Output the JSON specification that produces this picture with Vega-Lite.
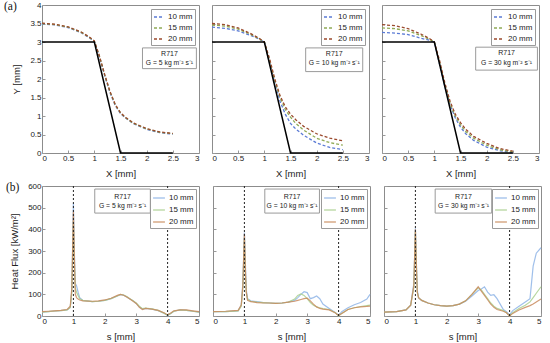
{
"$schema":"https://vega.github.io/schema/vega-lite/v6.json",
"padding":{"left":3,"top":0,"right":2,"bottom":2},
"background":"white",
"datasets":{
"top":[
{"p":1,"x":0,"10 mm":3.49,"15 mm":3.5,"20 mm":3.51},
{"p":1,"x":0.25,"10 mm":3.46,"15 mm":3.47,"20 mm":3.48},
{"p":1,"x":0.5,"10 mm":3.39,"15 mm":3.4,"20 mm":3.41},
{"p":1,"x":0.75,"10 mm":3.25,"15 mm":3.26,"20 mm":3.27},
{"p":1,"x":0.9,"10 mm":3.12,"15 mm":3.13,"20 mm":3.14},
{"p":1,"x":1.0,"10 mm":3.01,"15 mm":3.02,"20 mm":3.03},
{"p":1,"x":1.1,"10 mm":2.58,"15 mm":2.6,"20 mm":2.61},
{"p":1,"x":1.2,"10 mm":2.08,"15 mm":2.1,"20 mm":2.11},
{"p":1,"x":1.3,"10 mm":1.63,"15 mm":1.65,"20 mm":1.66},
{"p":1,"x":1.4,"10 mm":1.28,"15 mm":1.3,"20 mm":1.31},
{"p":1,"x":1.5,"10 mm":1.07,"15 mm":1.08,"20 mm":1.09},
{"p":1,"x":1.6,"10 mm":0.94,"15 mm":0.95,"20 mm":0.96},
{"p":1,"x":1.75,"10 mm":0.79,"15 mm":0.8,"20 mm":0.81},
{"p":1,"x":2.0,"10 mm":0.64,"15 mm":0.65,"20 mm":0.66},
{"p":1,"x":2.25,"10 mm":0.55,"15 mm":0.56,"20 mm":0.57},
{"p":1,"x":2.5,"10 mm":0.51,"15 mm":0.52,"20 mm":0.53},
{"p":2,"x":0,"10 mm":3.4,"15 mm":3.46,"20 mm":3.5},
{"p":2,"x":0.25,"10 mm":3.37,"15 mm":3.43,"20 mm":3.47},
{"p":2,"x":0.5,"10 mm":3.3,"15 mm":3.35,"20 mm":3.38},
{"p":2,"x":0.75,"10 mm":3.17,"15 mm":3.2,"20 mm":3.22},
{"p":2,"x":0.9,"10 mm":3.08,"15 mm":3.09,"20 mm":3.1},
{"p":2,"x":1.0,"10 mm":3.0,"15 mm":3.0,"20 mm":3.0},
{"p":2,"x":1.1,"10 mm":2.45,"15 mm":2.5,"20 mm":2.55},
{"p":2,"x":1.2,"10 mm":1.9,"15 mm":1.95,"20 mm":2.0},
{"p":2,"x":1.3,"10 mm":1.4,"15 mm":1.5,"20 mm":1.55},
{"p":2,"x":1.4,"10 mm":1.05,"15 mm":1.18,"20 mm":1.25},
{"p":2,"x":1.5,"10 mm":0.8,"15 mm":0.97,"20 mm":1.05},
{"p":2,"x":1.6,"10 mm":0.65,"15 mm":0.8,"20 mm":0.9},
{"p":2,"x":1.75,"10 mm":0.48,"15 mm":0.62,"20 mm":0.72},
{"p":2,"x":2.0,"10 mm":0.27,"15 mm":0.4,"20 mm":0.52},
{"p":2,"x":2.25,"10 mm":0.15,"15 mm":0.28,"20 mm":0.4},
{"p":2,"x":2.5,"10 mm":0.09,"15 mm":0.21,"20 mm":0.33},
{"p":3,"x":0,"10 mm":3.26,"15 mm":3.38,"20 mm":3.47},
{"p":3,"x":0.25,"10 mm":3.24,"15 mm":3.36,"20 mm":3.44},
{"p":3,"x":0.5,"10 mm":3.2,"15 mm":3.3,"20 mm":3.36},
{"p":3,"x":0.75,"10 mm":3.1,"15 mm":3.17,"20 mm":3.21},
{"p":3,"x":0.9,"10 mm":3.05,"15 mm":3.08,"20 mm":3.1},
{"p":3,"x":1.0,"10 mm":3.0,"15 mm":3.0,"20 mm":3.0},
{"p":3,"x":1.1,"10 mm":2.4,"15 mm":2.45,"20 mm":2.5},
{"p":3,"x":1.2,"10 mm":1.8,"15 mm":1.85,"20 mm":1.9},
{"p":3,"x":1.3,"10 mm":1.3,"15 mm":1.35,"20 mm":1.4},
{"p":3,"x":1.4,"10 mm":0.95,"15 mm":1.0,"20 mm":1.05},
{"p":3,"x":1.5,"10 mm":0.7,"15 mm":0.76,"20 mm":0.82},
{"p":3,"x":1.6,"10 mm":0.52,"15 mm":0.58,"20 mm":0.64},
{"p":3,"x":1.75,"10 mm":0.34,"15 mm":0.4,"20 mm":0.45},
{"p":3,"x":2.0,"10 mm":0.16,"15 mm":0.21,"20 mm":0.26},
{"p":3,"x":2.25,"10 mm":0.06,"15 mm":0.09,"20 mm":0.12},
{"p":3,"x":2.5,"10 mm":0.01,"15 mm":0.03,"20 mm":0.05}
],
"profile":[{"x":0,"y":3},{"x":1,"y":3},{"x":1.5,"y":0},{"x":2.5,"y":0}],
"guides":[{"s":1},{"s":4}],
"bottom":[
{"p":1,"s":0,"10 mm":18,"15 mm":18,"20 mm":20},
{"p":1,"s":0.2,"10 mm":20,"15 mm":20,"20 mm":22},
{"p":1,"s":0.4,"10 mm":23,"15 mm":23,"20 mm":24},
{"p":1,"s":0.6,"10 mm":25,"15 mm":25,"20 mm":26},
{"p":1,"s":0.8,"10 mm":28,"15 mm":28,"20 mm":30},
{"p":1,"s":0.9,"10 mm":40,"15 mm":40,"20 mm":45},
{"p":1,"s":0.95,"10 mm":120,"15 mm":110,"20 mm":130},
{"p":1,"s":1.0,"10 mm":520,"15 mm":440,"20 mm":480},
{"p":1,"s":1.03,"10 mm":300,"15 mm":250,"20 mm":280},
{"p":1,"s":1.06,"10 mm":150,"15 mm":130,"20 mm":100},
{"p":1,"s":1.1,"10 mm":140,"15 mm":110,"20 mm":85},
{"p":1,"s":1.15,"10 mm":110,"15 mm":95,"20 mm":78},
{"p":1,"s":1.2,"10 mm":85,"15 mm":80,"20 mm":74},
{"p":1,"s":1.3,"10 mm":72,"15 mm":72,"20 mm":70},
{"p":1,"s":1.6,"10 mm":66,"15 mm":66,"20 mm":68},
{"p":1,"s":1.8,"10 mm":68,"15 mm":68,"20 mm":70},
{"p":1,"s":2.0,"10 mm":72,"15 mm":72,"20 mm":74},
{"p":1,"s":2.2,"10 mm":80,"15 mm":80,"20 mm":82},
{"p":1,"s":2.4,"10 mm":92,"15 mm":92,"20 mm":95},
{"p":1,"s":2.5,"10 mm":98,"15 mm":100,"20 mm":100},
{"p":1,"s":2.6,"10 mm":96,"15 mm":97,"20 mm":96},
{"p":1,"s":2.7,"10 mm":88,"15 mm":90,"20 mm":88},
{"p":1,"s":2.8,"10 mm":78,"15 mm":80,"20 mm":78},
{"p":1,"s":2.9,"10 mm":70,"15 mm":70,"20 mm":68},
{"p":1,"s":3.0,"10 mm":58,"15 mm":60,"20 mm":58},
{"p":1,"s":3.1,"10 mm":42,"15 mm":45,"20 mm":40},
{"p":1,"s":3.2,"10 mm":32,"15 mm":34,"20 mm":30},
{"p":1,"s":3.3,"10 mm":35,"15 mm":36,"20 mm":35},
{"p":1,"s":3.5,"10 mm":32,"15 mm":33,"20 mm":32},
{"p":1,"s":3.7,"10 mm":25,"15 mm":26,"20 mm":26},
{"p":1,"s":3.9,"10 mm":12,"15 mm":12,"20 mm":14},
{"p":1,"s":4.0,"10 mm":2,"15 mm":3,"20 mm":5},
{"p":1,"s":4.1,"10 mm":12,"15 mm":12,"20 mm":14},
{"p":1,"s":4.2,"10 mm":22,"15 mm":22,"20 mm":24},
{"p":1,"s":4.4,"10 mm":28,"15 mm":28,"20 mm":28},
{"p":1,"s":4.6,"10 mm":26,"15 mm":26,"20 mm":28},
{"p":1,"s":4.8,"10 mm":22,"15 mm":22,"20 mm":24},
{"p":1,"s":5.0,"10 mm":18,"15 mm":18,"20 mm":20},
{"p":2,"s":0,"10 mm":20,"15 mm":20,"20 mm":20},
{"p":2,"s":0.4,"10 mm":20,"15 mm":20,"20 mm":22},
{"p":2,"s":0.8,"10 mm":24,"15 mm":24,"20 mm":26},
{"p":2,"s":0.9,"10 mm":50,"15 mm":45,"20 mm":50},
{"p":2,"s":0.95,"10 mm":150,"15 mm":130,"20 mm":140},
{"p":2,"s":1.0,"10 mm":385,"15 mm":360,"20 mm":380},
{"p":2,"s":1.03,"10 mm":250,"15 mm":200,"20 mm":220},
{"p":2,"s":1.06,"10 mm":120,"15 mm":110,"20 mm":110},
{"p":2,"s":1.1,"10 mm":80,"15 mm":78,"20 mm":72},
{"p":2,"s":1.2,"10 mm":70,"15 mm":68,"20 mm":66},
{"p":2,"s":1.4,"10 mm":66,"15 mm":64,"20 mm":62},
{"p":2,"s":1.6,"10 mm":62,"15 mm":62,"20 mm":60},
{"p":2,"s":1.8,"10 mm":60,"15 mm":60,"20 mm":60},
{"p":2,"s":2.0,"10 mm":58,"15 mm":58,"20 mm":58},
{"p":2,"s":2.2,"10 mm":60,"15 mm":60,"20 mm":60},
{"p":2,"s":2.4,"10 mm":64,"15 mm":64,"20 mm":64},
{"p":2,"s":2.6,"10 mm":72,"15 mm":78,"20 mm":68},
{"p":2,"s":2.7,"10 mm":85,"15 mm":95,"20 mm":72},
{"p":2,"s":2.8,"10 mm":100,"15 mm":102,"20 mm":76},
{"p":2,"s":2.9,"10 mm":112,"15 mm":95,"20 mm":80},
{"p":2,"s":3.0,"10 mm":108,"15 mm":80,"20 mm":82},
{"p":2,"s":3.1,"10 mm":80,"15 mm":62,"20 mm":70},
{"p":2,"s":3.2,"10 mm":85,"15 mm":50,"20 mm":55},
{"p":2,"s":3.3,"10 mm":92,"15 mm":42,"20 mm":42},
{"p":2,"s":3.4,"10 mm":80,"15 mm":38,"20 mm":35},
{"p":2,"s":3.5,"10 mm":55,"15 mm":34,"20 mm":32},
{"p":2,"s":3.7,"10 mm":35,"15 mm":30,"20 mm":28},
{"p":2,"s":3.9,"10 mm":15,"15 mm":15,"20 mm":14},
{"p":2,"s":4.0,"10 mm":2,"15 mm":0,"20 mm":2},
{"p":2,"s":4.1,"10 mm":20,"15 mm":12,"20 mm":12},
{"p":2,"s":4.3,"10 mm":38,"15 mm":30,"20 mm":30},
{"p":2,"s":4.5,"10 mm":52,"15 mm":38,"20 mm":38},
{"p":2,"s":4.7,"10 mm":62,"15 mm":44,"20 mm":42},
{"p":2,"s":4.9,"10 mm":78,"15 mm":48,"20 mm":44},
{"p":2,"s":5.0,"10 mm":100,"15 mm":50,"20 mm":46},
{"p":3,"s":0,"10 mm":18,"15 mm":18,"20 mm":18},
{"p":3,"s":0.4,"10 mm":20,"15 mm":20,"20 mm":20},
{"p":3,"s":0.7,"10 mm":28,"15 mm":28,"20 mm":28},
{"p":3,"s":0.85,"10 mm":50,"15 mm":50,"20 mm":50},
{"p":3,"s":0.95,"10 mm":150,"15 mm":130,"20 mm":140},
{"p":3,"s":1.0,"10 mm":405,"15 mm":390,"20 mm":400},
{"p":3,"s":1.03,"10 mm":250,"15 mm":230,"20 mm":240},
{"p":3,"s":1.06,"10 mm":120,"15 mm":110,"20 mm":110},
{"p":3,"s":1.1,"10 mm":85,"15 mm":85,"20 mm":85},
{"p":3,"s":1.2,"10 mm":72,"15 mm":72,"20 mm":72},
{"p":3,"s":1.4,"10 mm":60,"15 mm":60,"20 mm":60},
{"p":3,"s":1.6,"10 mm":52,"15 mm":52,"20 mm":52},
{"p":3,"s":1.8,"10 mm":48,"15 mm":48,"20 mm":48},
{"p":3,"s":2.0,"10 mm":46,"15 mm":46,"20 mm":46},
{"p":3,"s":2.2,"10 mm":48,"15 mm":48,"20 mm":48},
{"p":3,"s":2.4,"10 mm":55,"15 mm":55,"20 mm":55},
{"p":3,"s":2.6,"10 mm":68,"15 mm":70,"20 mm":70},
{"p":3,"s":2.8,"10 mm":92,"15 mm":100,"20 mm":100},
{"p":3,"s":3.0,"10 mm":118,"15 mm":130,"20 mm":135},
{"p":3,"s":3.1,"10 mm":125,"15 mm":120,"20 mm":115},
{"p":3,"s":3.2,"10 mm":135,"15 mm":100,"20 mm":95},
{"p":3,"s":3.3,"10 mm":110,"15 mm":80,"20 mm":75},
{"p":3,"s":3.4,"10 mm":95,"15 mm":60,"20 mm":55},
{"p":3,"s":3.5,"10 mm":98,"15 mm":45,"20 mm":40},
{"p":3,"s":3.6,"10 mm":80,"15 mm":35,"20 mm":30},
{"p":3,"s":3.8,"10 mm":30,"15 mm":25,"20 mm":22},
{"p":3,"s":3.9,"10 mm":20,"15 mm":15,"20 mm":15},
{"p":3,"s":4.0,"10 mm":5,"15 mm":0,"20 mm":0},
{"p":3,"s":4.1,"10 mm":25,"15 mm":15,"20 mm":12},
{"p":3,"s":4.3,"10 mm":45,"15 mm":35,"20 mm":28},
{"p":3,"s":4.5,"10 mm":65,"15 mm":50,"20 mm":40},
{"p":3,"s":4.65,"10 mm":80,"15 mm":65,"20 mm":48},
{"p":3,"s":4.75,"10 mm":230,"15 mm":85,"20 mm":55},
{"p":3,"s":4.85,"10 mm":290,"15 mm":105,"20 mm":65},
{"p":3,"s":5.0,"10 mm":315,"15 mm":135,"20 mm":78}
]
},
"config":{
"font":"Liberation Sans",
"view":{"stroke":"#8c8c8c","strokeWidth":1},
"axis":{"domain":false,"grid":false,"labelFontSize":8,"titleFontSize":9.5,"titleFontWeight":"normal","labelColor":"#222","titleColor":"#222","tickColor":"#999","tickSize":-3,"labelPadding":4,"titlePadding":6,"labelOverlap":false,"format":"~f"},
"axisX":{"tickCount":5},
"axisY":{"titlePadding":8,"tickCount":8},
"legend":{"orient":"top-right","strokeColor":"#9a9a9a","fillColor":"white","padding":2,"labelFontSize":8,"labelColor":"#222","symbolType":"stroke","symbolSize":100,"rowPadding":1,"symbolStrokeWidth":1.3,"labelOffset":3},
"title":{"font":"Liberation Serif","fontSize":11.5,"fontWeight":"normal","anchor":"start","frame":"group","color":"#111"}
},
"spacing":3,
"resolve":{"scale":{"color":"independent"},"legend":{"color":"independent"}},
"vconcat":[
{"spacing":8,
"resolve":{"scale":{"color":"independent"},"legend":{"color":"independent"}},
"hconcat":[
{"width":157,"height":148,
"title":{"text":"(a)","offset":-11,"dx":-38},
"layer":[
{"data":{"name":"top"},"transform":[{"filter":"datum.p == 1"},{"fold":["10 mm","15 mm","20 mm"],"as":["series","y"]}],
"mark":{"type":"line","strokeDash":[3,2],"strokeWidth":1.3},
"encoding":{
"x":{"field":"x","type":"quantitative","scale":{"domain":[0,3]},"axis":{"title":"X [mm]"}},
"y":{"field":"y","type":"quantitative","scale":{"domain":[0,4]},"axis":{"title":"Y [mm]"}},
"color":{"field":"series","type":"nominal","scale":{"domain":["10 mm","15 mm","20 mm"],"range":["#5b7bd5","#8faa55","#9b4a2d"]},"legend":{"title":null,"symbolDash":[3,2],"offset":4}}}},
{"data":{"name":"profile"},"mark":{"type":"line","color":"black","strokeWidth":1.5},"encoding":{"x":{"field":"x","type":"quantitative"},"y":{"field":"y","type":"quantitative"}}},
{"data":{"values":[{}]},"mark":{"type":"rect","fill":"white","stroke":"#9a9a9a","strokeWidth":1},"encoding":{"x":{"datum":1.92},"x2":{"datum":2.95},"y":{"datum":2.84},"y2":{"datum":2.28}}},
{"data":{"values":[{}]},"mark":{"type":"text","fontSize":7,"color":"#222"},"encoding":{"x":{"datum":2.435},"y":{"datum":2.68},"text":{"value":"R717"}}},
{"data":{"values":[{}]},"mark":{"type":"text","fontSize":6.8,"color":"#222"},"encoding":{"x":{"datum":2.435},"y":{"datum":2.43},"text":{"value":"G = 5 kg m⁻² s⁻¹"}}}
]},
{"width":157,"height":148,
"layer":[
{"data":{"name":"top"},"transform":[{"filter":"datum.p == 2"},{"fold":["10 mm","15 mm","20 mm"],"as":["series","y"]}],
"mark":{"type":"line","strokeDash":[3,2],"strokeWidth":1.3},
"encoding":{
"x":{"field":"x","type":"quantitative","scale":{"domain":[0,3]},"axis":{"title":"X [mm]"}},
"y":{"field":"y","type":"quantitative","scale":{"domain":[0,4]},"axis":{"title":null,"labels":false}},
"color":{"field":"series","type":"nominal","scale":{"domain":["10 mm","15 mm","20 mm"],"range":["#5b7bd5","#8faa55","#9b4a2d"]},"legend":{"title":null,"symbolDash":[3,2],"offset":4}}}},
{"data":{"name":"profile"},"mark":{"type":"line","color":"black","strokeWidth":1.5},"encoding":{"x":{"field":"x","type":"quantitative"},"y":{"field":"y","type":"quantitative"}}},
{"data":{"values":[{}]},"mark":{"type":"rect","fill":"white","stroke":"#9a9a9a","strokeWidth":1},"encoding":{"x":{"datum":1.79},"x2":{"datum":2.88},"y":{"datum":2.84},"y2":{"datum":2.2}}},
{"data":{"values":[{}]},"mark":{"type":"text","fontSize":7,"color":"#222"},"encoding":{"x":{"datum":2.335},"y":{"datum":2.68},"text":{"value":"R717"}}},
{"data":{"values":[{}]},"mark":{"type":"text","fontSize":6.8,"color":"#222"},"encoding":{"x":{"datum":2.335},"y":{"datum":2.42},"text":{"value":"G = 10 kg m⁻² s⁻¹"}}}
]},
{"width":157,"height":148,
"layer":[
{"data":{"name":"top"},"transform":[{"filter":"datum.p == 3"},{"fold":["10 mm","15 mm","20 mm"],"as":["series","y"]}],
"mark":{"type":"line","strokeDash":[3,2],"strokeWidth":1.3},
"encoding":{
"x":{"field":"x","type":"quantitative","scale":{"domain":[0,3]},"axis":{"title":"X [mm]"}},
"y":{"field":"y","type":"quantitative","scale":{"domain":[0,4]},"axis":{"title":null,"labels":false}},
"color":{"field":"series","type":"nominal","scale":{"domain":["10 mm","15 mm","20 mm"],"range":["#5b7bd5","#8faa55","#9b4a2d"]},"legend":{"title":null,"symbolDash":[3,2],"offset":4}}}},
{"data":{"name":"profile"},"mark":{"type":"line","color":"black","strokeWidth":1.5},"encoding":{"x":{"field":"x","type":"quantitative"},"y":{"field":"y","type":"quantitative"}}},
{"data":{"values":[{}]},"mark":{"type":"rect","fill":"white","stroke":"#9a9a9a","strokeWidth":1},"encoding":{"x":{"datum":1.79},"x2":{"datum":2.97},"y":{"datum":2.86},"y2":{"datum":2.24}}},
{"data":{"values":[{}]},"mark":{"type":"text","fontSize":7,"color":"#222"},"encoding":{"x":{"datum":2.38},"y":{"datum":2.7},"text":{"value":"R717"}}},
{"data":{"values":[{}]},"mark":{"type":"text","fontSize":6.8,"color":"#222"},"encoding":{"x":{"datum":2.38},"y":{"datum":2.44},"text":{"value":"G = 30 kg m⁻² s⁻¹"}}}
]}
]},
{"spacing":8,
"resolve":{"scale":{"color":"independent"},"legend":{"color":"independent"}},
"hconcat":[
{"width":157,"height":130,
"title":{"text":"(b)","offset":-11,"dx":-36},
"layer":[
{"data":{"name":"bottom"},"transform":[{"filter":"datum.p == 1"},{"fold":["10 mm","15 mm","20 mm"],"as":["series","h"]}],
"mark":{"type":"line","strokeWidth":1.2,"opacity":0.85},
"encoding":{
"x":{"field":"s","type":"quantitative","scale":{"domain":[0,5]},"axis":{"title":"s [mm]"}},
"y":{"field":"h","type":"quantitative","scale":{"domain":[0,600]},"axis":{"title":"Heat Flux [kW/m²]"}},
"color":{"field":"series","type":"nominal","scale":{"domain":["10 mm","15 mm","20 mm"],"range":["#8eb4e6","#a9cf8e","#c98b5e"]},"legend":{"title":null,"offset":3,"rowPadding":1,"symbolSize":140}}}},
{"data":{"name":"guides"},"mark":{"type":"rule","color":"#222","strokeDash":[2,2],"strokeWidth":1},"encoding":{"x":{"field":"s","type":"quantitative"}}},
{"data":{"values":[{}]},"mark":{"type":"rect","fill":"white","stroke":"#9a9a9a","strokeWidth":1},"encoding":{"x":{"datum":1.68},"x2":{"datum":3.45},"y":{"datum":586},"y2":{"datum":475}}},
{"data":{"values":[{}]},"mark":{"type":"text","fontSize":7,"color":"#222"},"encoding":{"x":{"datum":2.565},"y":{"datum":547},"text":{"value":"R717"}}},
{"data":{"values":[{}]},"mark":{"type":"text","fontSize":6.8,"color":"#222"},"encoding":{"x":{"datum":2.565},"y":{"datum":510},"text":{"value":"G = 5 kg m⁻² s⁻¹"}}}
]},
{"width":157,"height":130,
"layer":[
{"data":{"name":"bottom"},"transform":[{"filter":"datum.p == 2"},{"fold":["10 mm","15 mm","20 mm"],"as":["series","h"]}],
"mark":{"type":"line","strokeWidth":1.2,"opacity":0.85},
"encoding":{
"x":{"field":"s","type":"quantitative","scale":{"domain":[0,5]},"axis":{"title":"s [mm]"}},
"y":{"field":"h","type":"quantitative","scale":{"domain":[0,600]},"axis":{"title":null,"labels":false}},
"color":{"field":"series","type":"nominal","scale":{"domain":["10 mm","15 mm","20 mm"],"range":["#8eb4e6","#a9cf8e","#c98b5e"]},"legend":{"title":null,"offset":3,"rowPadding":1,"symbolSize":140}}}},
{"data":{"name":"guides"},"mark":{"type":"rule","color":"#222","strokeDash":[2,2],"strokeWidth":1},"encoding":{"x":{"field":"s","type":"quantitative"}}},
{"data":{"values":[{}]},"mark":{"type":"rect","fill":"white","stroke":"#9a9a9a","strokeWidth":1},"encoding":{"x":{"datum":1.65},"x2":{"datum":3.39},"y":{"datum":586},"y2":{"datum":475}}},
{"data":{"values":[{}]},"mark":{"type":"text","fontSize":7,"color":"#222"},"encoding":{"x":{"datum":2.52},"y":{"datum":547},"text":{"value":"R717"}}},
{"data":{"values":[{}]},"mark":{"type":"text","fontSize":6.8,"color":"#222"},"encoding":{"x":{"datum":2.52},"y":{"datum":510},"text":{"value":"G = 10 kg m⁻² s⁻¹"}}}
]},
{"width":157,"height":130,
"layer":[
{"data":{"name":"bottom"},"transform":[{"filter":"datum.p == 3"},{"fold":["10 mm","15 mm","20 mm"],"as":["series","h"]}],
"mark":{"type":"line","strokeWidth":1.2,"opacity":0.85},
"encoding":{
"x":{"field":"s","type":"quantitative","scale":{"domain":[0,5]},"axis":{"title":"s [mm]"}},
"y":{"field":"h","type":"quantitative","scale":{"domain":[0,600]},"axis":{"title":null,"labels":false}},
"color":{"field":"series","type":"nominal","scale":{"domain":["10 mm","15 mm","20 mm"],"range":["#8eb4e6","#a9cf8e","#c98b5e"]},"legend":{"title":null,"offset":3,"rowPadding":1,"symbolSize":140}}}},
{"data":{"name":"guides"},"mark":{"type":"rule","color":"#222","strokeDash":[2,2],"strokeWidth":1},"encoding":{"x":{"field":"s","type":"quantitative"}}},
{"data":{"values":[{}]},"mark":{"type":"rect","fill":"white","stroke":"#9a9a9a","strokeWidth":1},"encoding":{"x":{"datum":1.63},"x2":{"datum":3.43},"y":{"datum":586},"y2":{"datum":475}}},
{"data":{"values":[{}]},"mark":{"type":"text","fontSize":7,"color":"#222"},"encoding":{"x":{"datum":2.53},"y":{"datum":547},"text":{"value":"R717"}}},
{"data":{"values":[{}]},"mark":{"type":"text","fontSize":6.8,"color":"#222"},"encoding":{"x":{"datum":2.53},"y":{"datum":510},"text":{"value":"G = 30 kg m⁻² s⁻¹"}}}
]}
]}
]
}
